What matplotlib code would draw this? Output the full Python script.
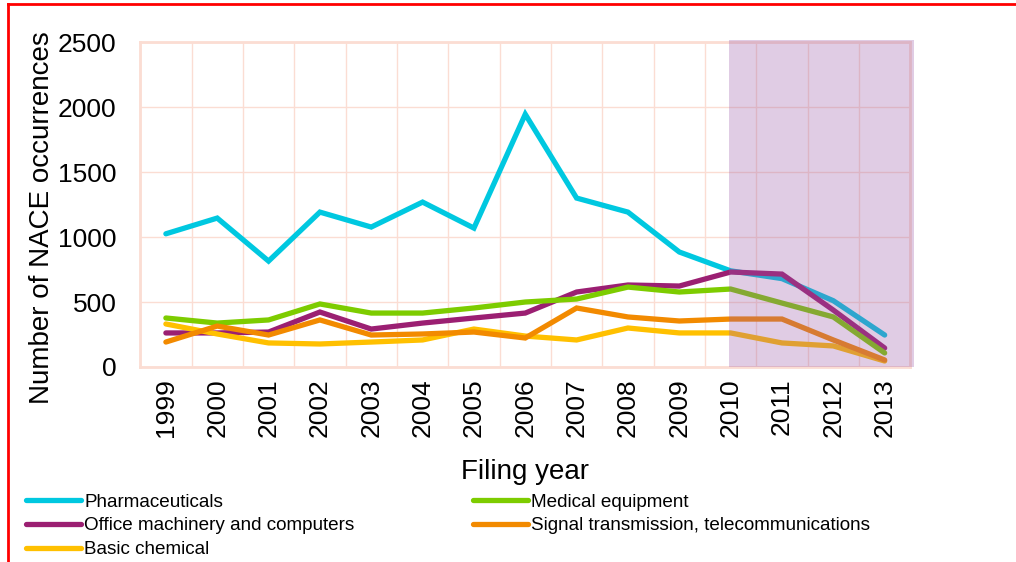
import matplotlib
matplotlib.use("Agg")
import matplotlib.pyplot as plt
from matplotlib.lines import Line2D
from matplotlib.patches import Rectangle
import numpy as np

years = [str(y) for y in range(1999, 2014)]

pharmaceuticals = [1025, 1146, 815, 1192, 1077, 1269, 1069, 1945, 1300, 1192, 885, 740, 680, 510, 246]
medical_equipment = [377, 338, 362, 485, 415, 415, 454, 500, 523, 615, 577, 600, 492, 385, 108]
office_machinery = [262, 262, 269, 423, 292, 338, 377, 415, 577, 631, 623, 731, 715, 438, 146]
signal_transmission = [192, 315, 246, 362, 246, 254, 269, 223, 454, 385, 354, 369, 369, 208, 54]
basic_chemical = [331, 254, 185, 177, 192, 208, 292, 238, 208, 300, 262, 262, 185, 162, 46]

series = [
    ("Pharmaceuticals", pharmaceuticals, "#00C8E0"),
    ("Office machinery and computers", office_machinery, "#9B1F72"),
    ("Basic chemical", basic_chemical, "#FFC000"),
    ("Medical equipment", medical_equipment, "#7DCC00"),
    ("Signal transmission, telecommunications", signal_transmission, "#F28A00"),
]

plt.rcParams["font.family"] = ["Liberation Sans", "DejaVu Sans"]
grid_color = "#FBDDD3"

fig = plt.figure(figsize=(10.16, 5.62), dpi=100)
ax = fig.add_axes([0.138, 0.347, 0.758, 0.578])

x = np.arange(len(years))
handles = []
for name, vals, col in series:
    h, = ax.plot(x, vals, color=col, linewidth=3.8, solid_capstyle="round",
                 solid_joinstyle="miter", label=name, zorder=3)
    handles.append(h)

# forecast / incomplete-data band
ax.add_patch(Rectangle((10.96, 0), 3.62, 2515, facecolor=(0.6, 0.35, 0.65),
                       alpha=0.3, edgecolor="none", zorder=4, clip_on=False))

ax.set_xlim(-0.5, len(years) - 0.5)
ax.set_ylim(0, 2500)
ax.set_yticks(range(0, 2501, 500))
ax.set_xticks(x)
ax.set_xticklabels(years, rotation=90)
ax.set_xticks(np.arange(-0.5, len(years), 1), minor=True)
ax.tick_params(axis="both", which="both", length=0, labelsize=19)
ax.tick_params(axis="x", pad=8)
ax.tick_params(axis="y", pad=17)
ax.grid(True, which="minor", axis="x", color=grid_color, linewidth=1)
ax.grid(True, which="major", axis="y", color=grid_color, linewidth=1)
for s in ax.spines.values():
    s.set_color(grid_color)
    s.set_linewidth(2)

ax.set_xlabel("Filing year", fontsize=20, labelpad=16)
ax.set_ylabel("Number of NACE occurrences", fontsize=20)
ax.yaxis.set_label_coords(-0.111, 0.46)

fig.legend(handles=handles, loc="upper left", bbox_to_anchor=(0.026, 0.122),
           ncol=2, frameon=False, fontsize=13.6, handlelength=2.9,
           handletextpad=0.15, columnspacing=6.3, labelspacing=0.35,
           borderaxespad=0, borderpad=0)

# red frame around the figure
fig.add_artist(Line2D([0.008, 1.0], [0.993, 0.993], color="red", linewidth=2))
fig.add_artist(Line2D([0.008, 0.008], [0.0, 0.993], color="red", linewidth=2))

fig.savefig("out.png", dpi=100)
